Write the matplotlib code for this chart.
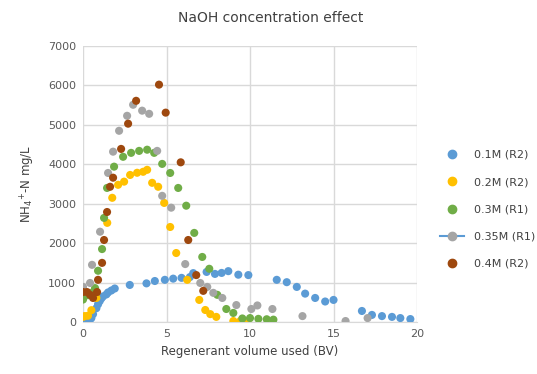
import matplotlib.pyplot as plt
from matplotlib.lines import Line2D

# 0.1M (R2)
x_01 = [0.0, 0.2, 0.4, 0.5, 0.6, 0.8, 0.9, 1.0, 1.1, 1.2, 1.4, 1.5, 1.7, 1.9,
        2.8, 3.8, 4.3, 4.9, 5.4, 5.9, 6.4, 6.6, 7.4, 7.9, 8.3, 8.7, 9.3, 9.9,
        11.6, 12.2, 12.8, 13.3, 13.9, 14.5, 15.0, 16.7, 17.3, 17.9, 18.5, 19.0, 19.6]
y_01 = [0, 20, 50, 100, 200, 350, 450, 530, 600, 650, 700, 750, 800, 850,
        940, 980, 1040, 1070, 1100, 1120, 1140, 1240, 1270, 1220, 1245, 1290, 1200, 1190,
        1070, 1010, 890, 720, 610, 520, 560, 280, 180, 150, 130, 100, 75]

# 0.2M (R2)
x_02 = [0.0, 0.1, 0.3, 0.5, 0.8, 1.45, 1.75, 2.1, 2.46, 2.82, 3.24, 3.6, 3.84,
        4.14, 4.5, 4.86, 5.22, 5.58, 6.24, 6.96, 7.32, 7.62, 7.98, 9.0, 9.42, 9.84]
y_02 = [130, 150, 160, 300, 610, 2515, 3150, 3480, 3560, 3730, 3785, 3810, 3860,
        3530, 3430, 3020, 2410, 1750, 1070, 560, 305, 200, 130, 25, 25, 0]

# 0.3M (R1)
x_03 = [0.0, 0.3, 0.6, 0.72, 0.9, 1.14, 1.26, 1.44, 1.86, 2.4, 2.88, 3.36, 3.84, 4.26,
        4.74, 5.22, 5.7, 6.18, 6.66, 7.14, 7.56, 8.04, 8.58, 9.0, 9.54, 10.0, 10.5, 11.0, 11.4]
y_03 = [570, 680, 760, 860, 1300, 1850, 2640, 3400, 3940, 4190, 4290, 4340, 4370, 4290,
        4010, 3780, 3400, 2950, 2260, 1650, 1350, 690, 330, 230, 90, 100, 80, 70, 60]

# 0.35M (R1)
x_035 = [0.0, 0.42, 0.54, 1.02, 1.5, 1.8, 2.16, 2.64, 3.0, 3.54, 3.96, 4.44, 4.74, 5.28,
         6.12, 7.02, 7.44, 7.8, 8.34, 9.18, 10.08, 10.44, 11.34, 13.14, 15.72, 17.04]
y_035 = [890, 990, 1450, 2290, 3780, 4320, 4850, 5230, 5510, 5360, 5280, 4340, 3200, 2900,
         1470, 990, 890, 740, 610, 430, 330, 420, 330, 150, 25, 100]

# 0.4M (R2)
x_04 = [0.0, 0.24, 0.42, 0.6, 0.84, 0.9, 1.14, 1.26, 1.44, 1.62, 1.8, 2.28, 2.7, 3.18,
        4.55, 4.95, 5.85, 6.3, 6.78, 7.2]
y_04 = [760, 760, 690, 610, 760, 1070, 1500, 2080, 2790, 3430, 3660, 4390, 5030, 5610,
        6020, 5310, 4050, 2080, 1190, 790]

labels = ['0.1M (R2)', '0.2M (R2)', '0.3M (R1)', '0.35M (R1)', '0.4M (R2)']
colors = ['#5B9BD5', '#FFC000', '#70AD47', '#A5A5A5', '#9E480E']
series = [(x_01, y_01), (x_02, y_02), (x_03, y_03), (x_035, y_035), (x_04, y_04)]

fig = plt.figure(figsize=(5.37, 3.74), dpi=100)
ax = fig.add_axes([0.1546, 0.139, 0.622, 0.738])

for (xs, ys), c in zip(series, colors):
    ax.scatter(xs, ys, s=34, color=c, edgecolors='none', zorder=3)

ax.set_xlim(0, 20)
ax.set_ylim(0, 7000)
ax.set_xticks(range(0, 21, 5))
ax.set_yticks(range(0, 7001, 1000))
ax.grid(True, color='#D9D9D9', linewidth=1)
ax.set_axisbelow(True)
for s in ['top', 'right', 'left']:
    ax.spines[s].set_visible(False)
ax.spines['bottom'].set_color('#D9D9D9')
ax.tick_params(length=0, labelsize=8, colors='#595959', pad=5)

ax.set_xlabel('Regenerant volume used (BV)', fontsize=8.5, color='#404040')
ax.set_ylabel('NH$_4$$^{+}$-N mg/L', fontsize=8.5, color='#404040', labelpad=8)
fig.text(0.505, 0.952, 'NaOH concentration effect', ha='center', va='center',
         fontsize=10, color='#404040')

handles = []
for lab, c in zip(labels, colors):
    if lab == '0.35M (R1)':
        h = Line2D([], [], color='#5B9BD5', lw=1.5, marker='o', markersize=6,
                   markerfacecolor=c, markeredgecolor=c)
    else:
        h = Line2D([], [], linestyle='none', marker='o', markersize=6,
                   markerfacecolor=c, markeredgecolor=c)
    handles.append(h)
fig.legend(handles, labels, loc='center left', bbox_to_anchor=(0.80, 0.44),
           frameon=False, fontsize=8, labelcolor='#404040', handlelength=2.2,
           labelspacing=1.55, handletextpad=0.9)

fig.savefig('out.png', dpi=100)
